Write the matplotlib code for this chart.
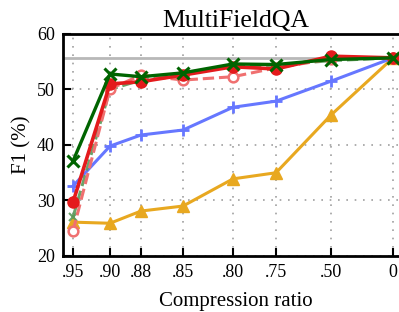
import matplotlib
matplotlib.use("Agg")
import matplotlib.pyplot as plt

plt.rcParams["font.family"] = ["Liberation Serif", "DejaVu Serif"]

ratio_labels = [".95", ".90", ".88", ".85", ".80", ".75", ".50", "0"]
# uneven spacing of the categories, as in the original layout
xpos = [73, 110, 141, 183, 233, 276, 331, 393]

full_ctx = 55.7

green_solid = [37.1, 52.8, 52.3, 53.0, 54.6, 54.5, 55.4, 55.7]
red_solid = [29.7, 51.0, 51.4, 52.6, 54.1, 53.7, 56.0, 55.7]
red_dashed = [24.5, 50.1, 52.6, 51.7, 52.3, 53.9, 55.5, 55.7]
green_dashed = [27.0, 50.0, 51.7, 53.0, 54.2, 54.4, 55.2, 55.7]
blue_plus = [32.6, 39.8, 41.8, 42.7, 46.8, 47.9, 51.5, 55.7]
orange_tri = [26.1, 25.9, 28.1, 29.0, 33.9, 35.0, 45.4, 55.7]

fig = plt.figure(figsize=(3.99, 3.12), dpi=100)
ax = fig.add_axes([63 / 399, 56 / 312, 345 / 399, 222 / 312])

ax.axhline(full_ctx, color="#b8b8b8", linewidth=2, zorder=1)

ax.plot(xpos, orange_tri, color="#e8a820", linewidth=2.2, marker="^", markersize=8, zorder=2)
ax.plot(xpos, blue_plus, color="#6677ff", linewidth=2.2, marker="+", markersize=8,
        markeredgewidth=2, zorder=3)
ax.plot(xpos, green_dashed, color="#5a9a5a", linewidth=2.2, linestyle="--", marker="x",
        markersize=6, markeredgewidth=1.5, alpha=0.9, zorder=4)
ax.plot(xpos, red_dashed, color="#f07070", linewidth=2.2, linestyle="--", marker="o",
        markersize=7, markerfacecolor="white", markeredgewidth=1.8, zorder=4)
ax.plot(xpos, red_solid, color="#e41a1c", linewidth=2.6, marker="o", markersize=8, zorder=5)
ax.plot(xpos, green_solid, color="#006400", linewidth=2.4, marker="x", markersize=8,
        markeredgewidth=2.2, zorder=6)

ax.set_xlim(63, 408)
ax.set_ylim(20, 60)
ax.set_xticks(xpos)
ax.set_xticklabels(ratio_labels)
ax.set_yticks([20, 30, 40, 50, 60])

ax.tick_params(direction="in", length=6, width=1.5, labelsize=13, pad=6)
ax.grid(True, linestyle=(0, (1, 4)), color="#a0a0a0", linewidth=1.2)
for side in ["left", "bottom", "top", "right"]:
    ax.spines[side].set_linewidth(2)

ax.set_title("MultiFieldQA", fontsize=18.5, pad=5)
ax.set_xlabel("Compression ratio", fontsize=15, labelpad=8)
ax.set_ylabel("F1 (%)", fontsize=15, labelpad=4)

fig.savefig("out.png", dpi=100)
